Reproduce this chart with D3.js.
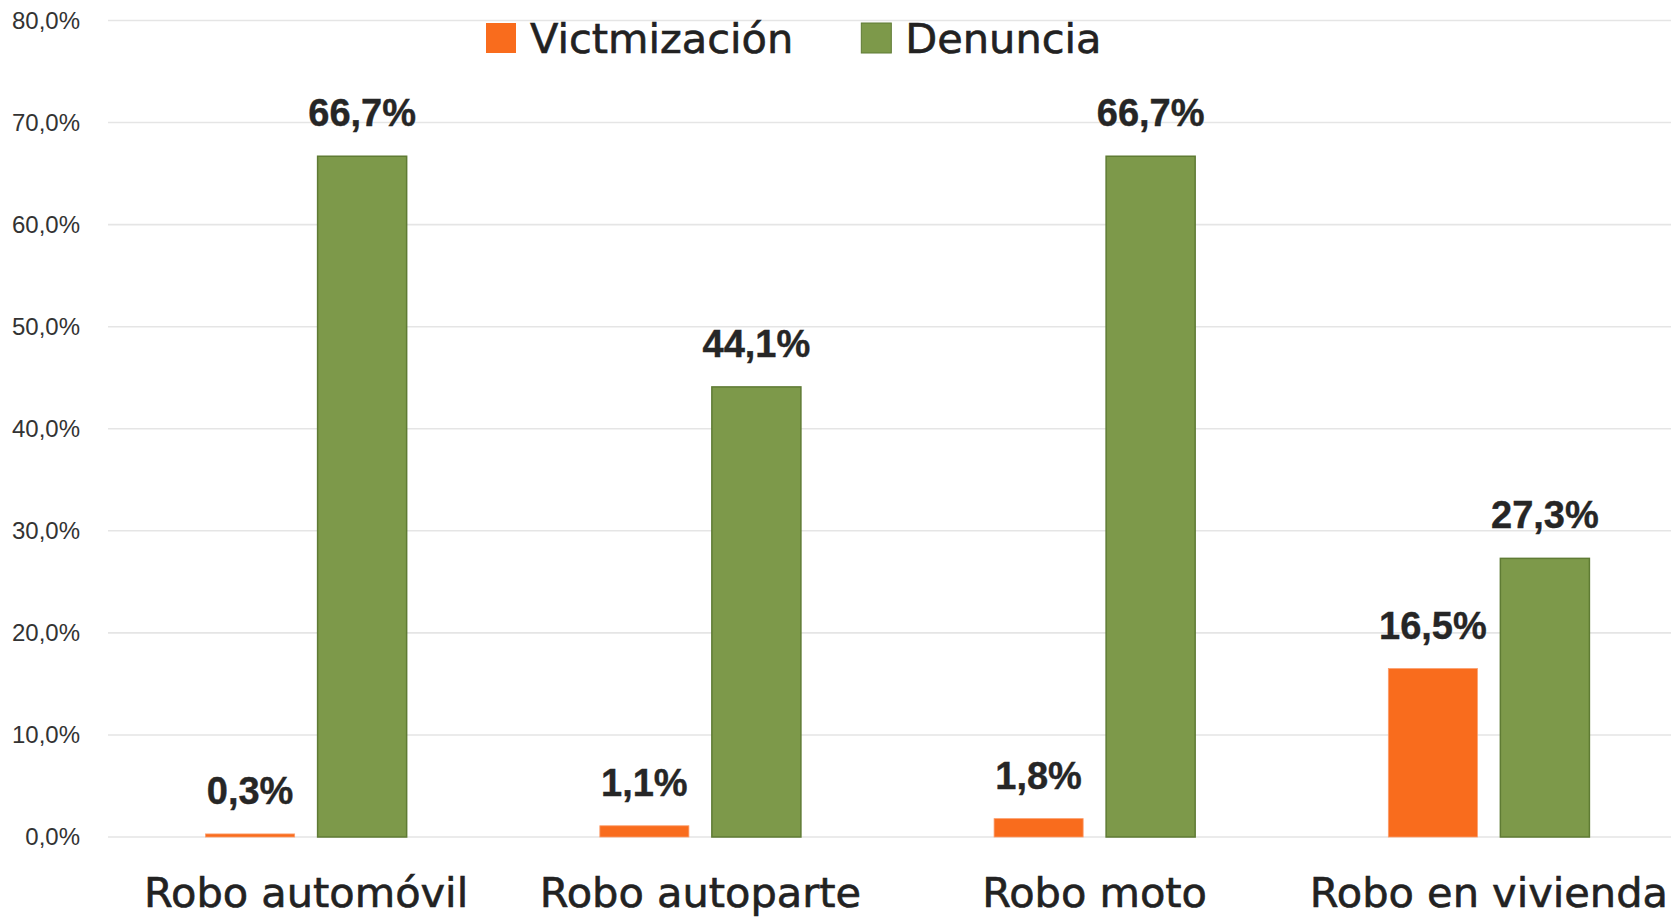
<!DOCTYPE html>
<html>
<head>
<meta charset="utf-8">
<script src="https://cdn.jsdelivr.net/npm/d3@7"></script>
<style>
  html, body { margin: 0; padding: 0; background: #fff; }
  svg { display: block; }
</style>
</head>
<body>
<div id="chart"></div>
<script>
// chart data
var categories = ["Robo automóvil", "Robo autoparte", "Robo moto", "Robo en vivienda"];
var seriesNames = ["Victmización", "Denuncia"];
var victimizacion = [0.003, 0.011, 0.018, 0.165];
var denuncia = [0.667, 0.441, 0.667, 0.273];
var yTicks = [0, 0.1, 0.2, 0.3, 0.4, 0.5, 0.6, 0.7, 0.8];
var colors = ["#f96c1d", "#7d994a"];
var strokes = ["#fb9d6c", "#5f7b34"];

var width = 1671, height = 920;

var locale = d3.formatLocale({ decimal: ",", thousands: ".", grouping: [3], currency: ["$", ""] });
var fmtTick = locale.format(".1%");

// build rows for the grouped bars
var rows = categories.map(function (c, i) {
  return { cat: c, values: [victimizacion[i], denuncia[i]] };
});

var svg = d3.select("#chart").append("svg")
    .attr("width", width)
    .attr("height", height);

var y = d3.scaleLinear()
    .domain([0, 0.8])
    .range([837, 20.5]);

// the original plot runs past the right edge of the picture
var x0 = d3.scaleBand()
    .domain(categories)
    .range([109, 1686])
    .paddingInner(0.49)
    .paddingOuter(0.245);

var x1 = d3.scaleBand()
    .domain(seriesNames)
    .range([0, x0.bandwidth()])
    .paddingInner(0.205);

// gridlines
svg.append("g")
    .selectAll("line")
    .data(yTicks)
    .enter().append("line")
      .attr("x1", 108)
      .attr("x2", width)
      .attr("y1", function (d) { return y(d); })
      .attr("y2", function (d) { return y(d); })
      .attr("stroke", "#e5e5e5")
      .attr("stroke-width", 1.6);

// y axis labels
var yAxis = svg.append("g")
    .attr("transform", "translate(80,0)")
    .call(d3.axisLeft(y).tickValues(yTicks).tickFormat(fmtTick).tickSize(0).tickPadding(0));
yAxis.select(".domain").remove();
yAxis.selectAll("text")
    .attr("font-family", "'Liberation Sans', Arial, sans-serif")
    .attr("font-size", 24)
    .attr("fill", "#333");

// bars
var groups = svg.selectAll(".cat")
    .data(rows)
    .enter().append("g")
      .attr("class", "cat")
      .attr("transform", function (d) { return "translate(" + x0(d.cat) + ",0)"; });

groups.selectAll("rect")
    .data(function (d) { return d.values.map(function (v, i) { return { s: i, v: v }; }); })
    .enter().append("rect")
      .attr("x", function (d) { return x1(seriesNames[d.s]); })
      .attr("y", function (d) { return y(d.v); })
      .attr("width", x1.bandwidth())
      .attr("height", function (d) { return y(0) - y(d.v); })
      .attr("fill", function (d) { return colors[d.s]; })
      .attr("stroke", function (d) { return strokes[d.s]; })
      .attr("stroke-width", function (d) { return d.s === 1 ? 1.5 : 0.8; });

// value labels
groups.selectAll(".val")
    .data(function (d) { return d.values.map(function (v, i) { return { s: i, v: v }; }); })
    .enter().append("text")
      .attr("class", "val")
      .attr("x", function (d) { return x1(seriesNames[d.s]) + x1.bandwidth() / 2; })
      .attr("y", function (d) { return y(d.v) - 30; })
      .attr("text-anchor", "middle")
      .attr("font-family", "'Liberation Sans', Arial, sans-serif")
      .attr("font-weight", "bold")
      .attr("font-size", 38)
      .attr("fill", "#262626")
      .attr("stroke", "#262626")
      .attr("stroke-width", 0.4)
      .text(function (d) { return fmtTick(d.v); });

// category labels
svg.append("g")
    .selectAll("text")
    .data(categories)
    .enter().append("text")
      .attr("x", function (d) { return x0(d) + x0.bandwidth() / 2; })
      .attr("y", 907)
      .attr("text-anchor", "middle")
      .attr("font-family", "'DejaVu Sans', sans-serif")
      .attr("font-size", 41.5)
      .attr("fill", "#222")
      .attr("stroke", "#222")
      .attr("stroke-width", 0.6)
      .text(function (d) { return d; });

// legend
var legend = svg.append("g").attr("transform", "translate(486,23)");
var lx = 0;
seriesNames.forEach(function (name, i) {
  var item = legend.append("g").attr("transform", "translate(" + lx + ",0)");
  item.append("rect")
      .attr("width", 30)
      .attr("height", 30)
      .attr("fill", colors[i])
      .attr("stroke", i === 1 ? strokes[i] : "none")
      .attr("stroke-width", 1);
  var t = item.append("text")
      .attr("x", 44)
      .attr("y", 30)
      .attr("font-family", "'DejaVu Sans', sans-serif")
      .attr("font-size", 41.5)
      .attr("fill", "#222")
      .attr("stroke", "#222")
      .attr("stroke-width", 0.6)
      .text(name);
  lx += 44 + t.node().getComputedTextLength() + 68;
});
</script>
</body>
</html>
